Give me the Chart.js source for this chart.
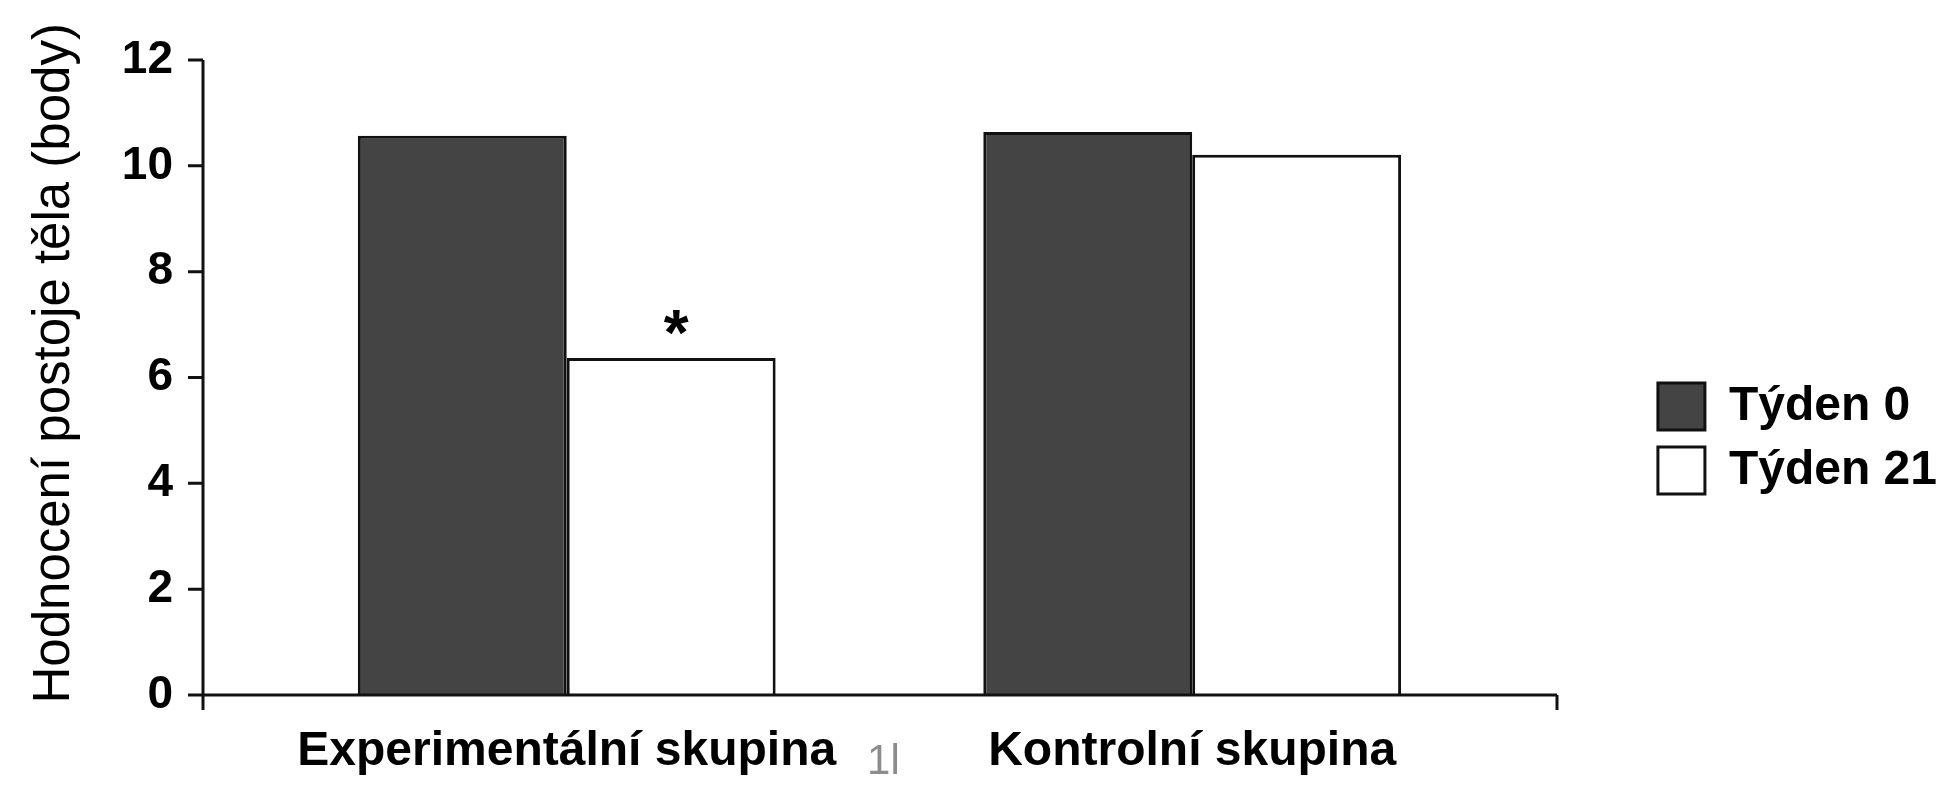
<!DOCTYPE html>
<html lang="cs">
<head>
<meta charset="utf-8">
<title>Hodnocení postoje těla</title>
<script src="https://cdn.jsdelivr.net/npm/chart.js@4.4.1/dist/chart.umd.min.js"></script>
<style>
  html, body { margin: 0; padding: 0; background: #fff; }
  #wrap { width: 1953px; height: 800px; position: relative; }
</style>
</head>
<body>
<div id="wrap"><canvas id="chart"></canvas></div>
<script>
const groups = ["Experimentální skupina", "Kontrolní skupina"];
const seriesNames = ["Týden 0", "Týden 21"];
const week0 = [10.57, 10.64];
const week21 = [6.37, 10.21];
const yTicks = [0, 2, 4, 6, 8, 10, 12];
const yTitle = "Hodnocení postoje těla (body)";
const marks = [{ series: 1, group: 0, text: "*" }];
const strayText = "1l";

// axis frame of the original figure (extends past the plot area)
const frame = { left: 203, right: 1557, tick: 15 };

const axisFrame = {
  id: "axisFrame",
  afterDatasetsDraw(chart) {
    const { ctx, scales } = chart;
    const y = scales.y, x = scales.x;
    const y0 = y.getPixelForValue(yTicks[0]);
    const yTop = y.getPixelForValue(yTicks[yTicks.length - 1]);
    ctx.save();
    ctx.strokeStyle = "#111";
    ctx.lineWidth = 3;
    ctx.beginPath();
    ctx.moveTo(frame.left, yTop);
    ctx.lineTo(frame.left, y0 + frame.tick);
    yTicks.forEach((v) => {
      const p = y.getPixelForValue(v);
      ctx.moveTo(frame.left - frame.tick, p);
      ctx.lineTo(frame.left, p);
    });
    ctx.moveTo(frame.left - frame.tick, y0);
    ctx.lineTo(frame.right, y0);
    ctx.moveTo(frame.right, y0);
    ctx.lineTo(frame.right, y0 + frame.tick);
    ctx.stroke();

    ctx.fillStyle = "#000";
    ctx.font = "bold 64px 'Liberation Sans', Arial, sans-serif";
    ctx.textAlign = "center";
    ctx.textBaseline = "alphabetic";
    marks.forEach((m) => {
      const bar = chart.getDatasetMeta(m.series).data[m.group];
      ctx.fillText(m.text, bar.x + 5, bar.y - 3);
    });

    const mid = (x.getPixelForValue(0) + x.getPixelForValue(1)) / 2;
    ctx.fillStyle = "#8c8c8c";
    ctx.font = "42px 'Liberation Sans', sans-serif";
    ctx.textBaseline = "middle";
    ctx.fillText(strayText, mid + 4, 762);
    ctx.restore();
  }
};

new Chart(document.getElementById("chart"), {
  type: "bar",
  data: {
    labels: groups,
    datasets: [
      {
        label: seriesNames[0],
        data: week0,
        backgroundColor: "#444444",
        borderColor: "#111111",
        borderWidth: 3
      },
      {
        label: seriesNames[1],
        data: week21,
        backgroundColor: "#ffffff",
        borderColor: "#111111",
        borderWidth: 3
      }
    ]
  },
  options: {
    responsive: true,
    maintainAspectRatio: false,
    animation: false,
    devicePixelRatio: 1,
    layout: { padding: { top: 60, right: 6, bottom: 0, left: 0 } },
    datasets: {
      bar: { categoryPercentage: 0.668, barPercentage: 1.0 }
    },
    scales: {
      x: {
        grid: { display: false, drawTicks: false },
        border: { display: false },
        ticks: {
          padding: 28,
          color: "#000",
          maxRotation: 0,
          minRotation: 0,
          autoSkip: false,
          font: { family: "'Liberation Sans', Arial, sans-serif", size: 48, weight: "bold" }
        },
        afterFit: (s) => { s.height = 105; }
      },
      y: {
        min: 0,
        max: 12,
        grid: { display: false, drawTicks: false },
        border: { display: false },
        ticks: {
          stepSize: 2,
          padding: 81,
          color: "#000",
          font: { family: "'Liberation Sans', Arial, sans-serif", size: 46, weight: "bold" }
        },
        title: {
          display: true,
          text: "  " + yTitle,
          color: "#000",
          padding: { top: 24, bottom: 0 },
          font: { family: "'Liberation Sans', Arial, sans-serif", size: 51, weight: "normal", lineHeight: 1.2 }
        },
        afterFit: (s) => {
          s.width = 254;
          s.paddingTop = 0;
          s.paddingBottom = 0;
        }
      },
      y2: {
        type: "linear",
        position: "right",
        grid: { display: false, drawTicks: false },
        border: { display: false },
        ticks: { display: false },
        afterFit: (s) => { s.width = 137; }
      }
    },
    plugins: {
      tooltip: { enabled: false },
      legend: {
        position: "right",
        align: "center",
        title: { display: true, text: "", padding: { top: 16, bottom: 0 }, font: { size: 1 } },
        labels: {
          boxWidth: 47,
          boxHeight: 47,
          padding: 16,
          color: "#000",
          font: { family: "'Liberation Sans', Arial, sans-serif", size: 48, weight: "bold" }
        }
      }
    }
  },
  plugins: [axisFrame]
});
</script>
</body>
</html>
